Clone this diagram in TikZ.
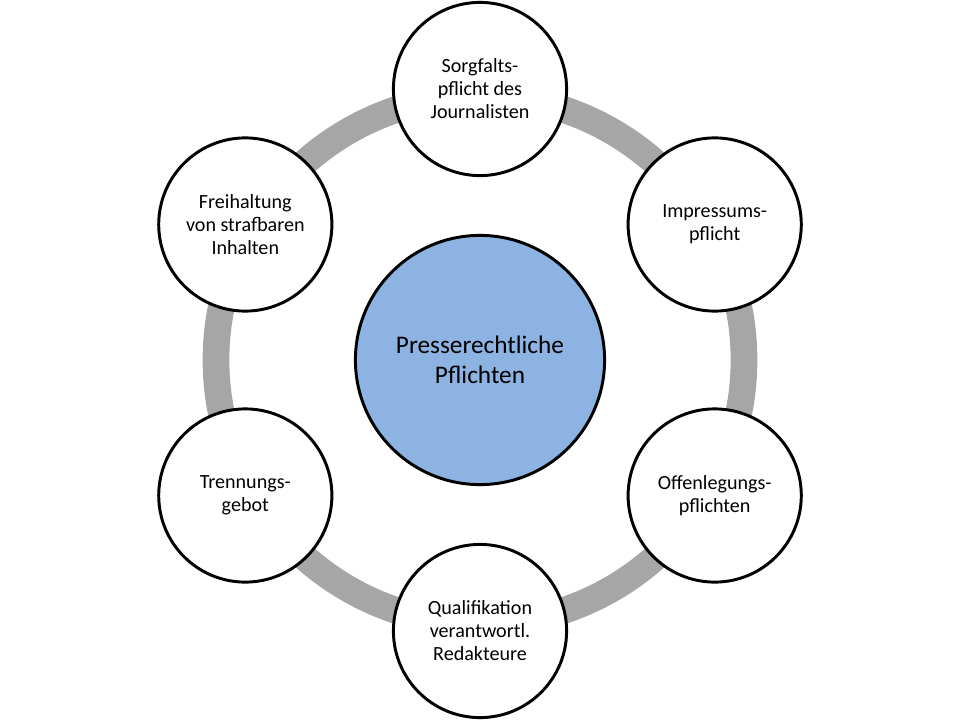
\documentclass[tikz,border=0pt]{standalone}
\usepackage{tkz-euclide}
\usepackage{fontspec}
\setmainfont{Carlito}

\definecolor{ringgray}{HTML}{A6A6A6}
\definecolor{coreblue}{HTML}{8DB3E2}

\tikzset{
  duty/.style={circle, draw=black, line width=2.1pt, fill=white,
    minimum size=4.33cm, inner sep=0pt, align=center,
    font=\fontsize{14.3}{16.4}\selectfont},
  core/.style={circle, draw=black, line width=2.1pt, fill=coreblue,
    minimum size=6.23cm, inner sep=0pt, align=center,
    font=\fontsize{18}{21}\selectfont}
}

\begin{document}
\begin{tikzpicture}
            \useasboundingbox (0,0) rectangle (24,18);
            \tkzDefPoints{12/9/M, 18.6/9/m_r}
            \tkzDrawCircle[color=ringgray, line width=19pt](M,m_r)

            %%%%%%%%%%%%%%%%%%%%
            \tkzDefShiftPoint[M](90:6.775){P_a}
            \tkzDefShiftPoint[M](30:6.775){P_b}
            \tkzDefShiftPoint[M](-30:6.775){P_c}
            \tkzDefShiftPoint[M](-90:6.775){P_d}
            \tkzDefShiftPoint[M](-150:6.775){P_e}
            \tkzDefShiftPoint[M](150:6.775){P_f}

            \node[core] (pflichten) at (M) {Presserechtliche\\Pflichten};

            \node[duty] (sorgfalt) at (P_a) {Sorgfalts-\\pflicht des\\Journalisten};
            \node[duty] (impressum) at (P_b) {Impressums-\\pflicht};
            \node[duty] (offenlegung) at (P_c) {Offenlegungs-\\pflichten};
            \node[duty] (qualifikation) at (P_d) {Qualifikation\\verantwortl.\\Redakteure};
            \node[duty] (trennung) at (P_e) {Trennungs-\\gebot};
            \node[duty] (freihaltung) at (P_f) {Freihaltung\\von strafbaren\\Inhalten};
        \end{tikzpicture}
\end{document}
